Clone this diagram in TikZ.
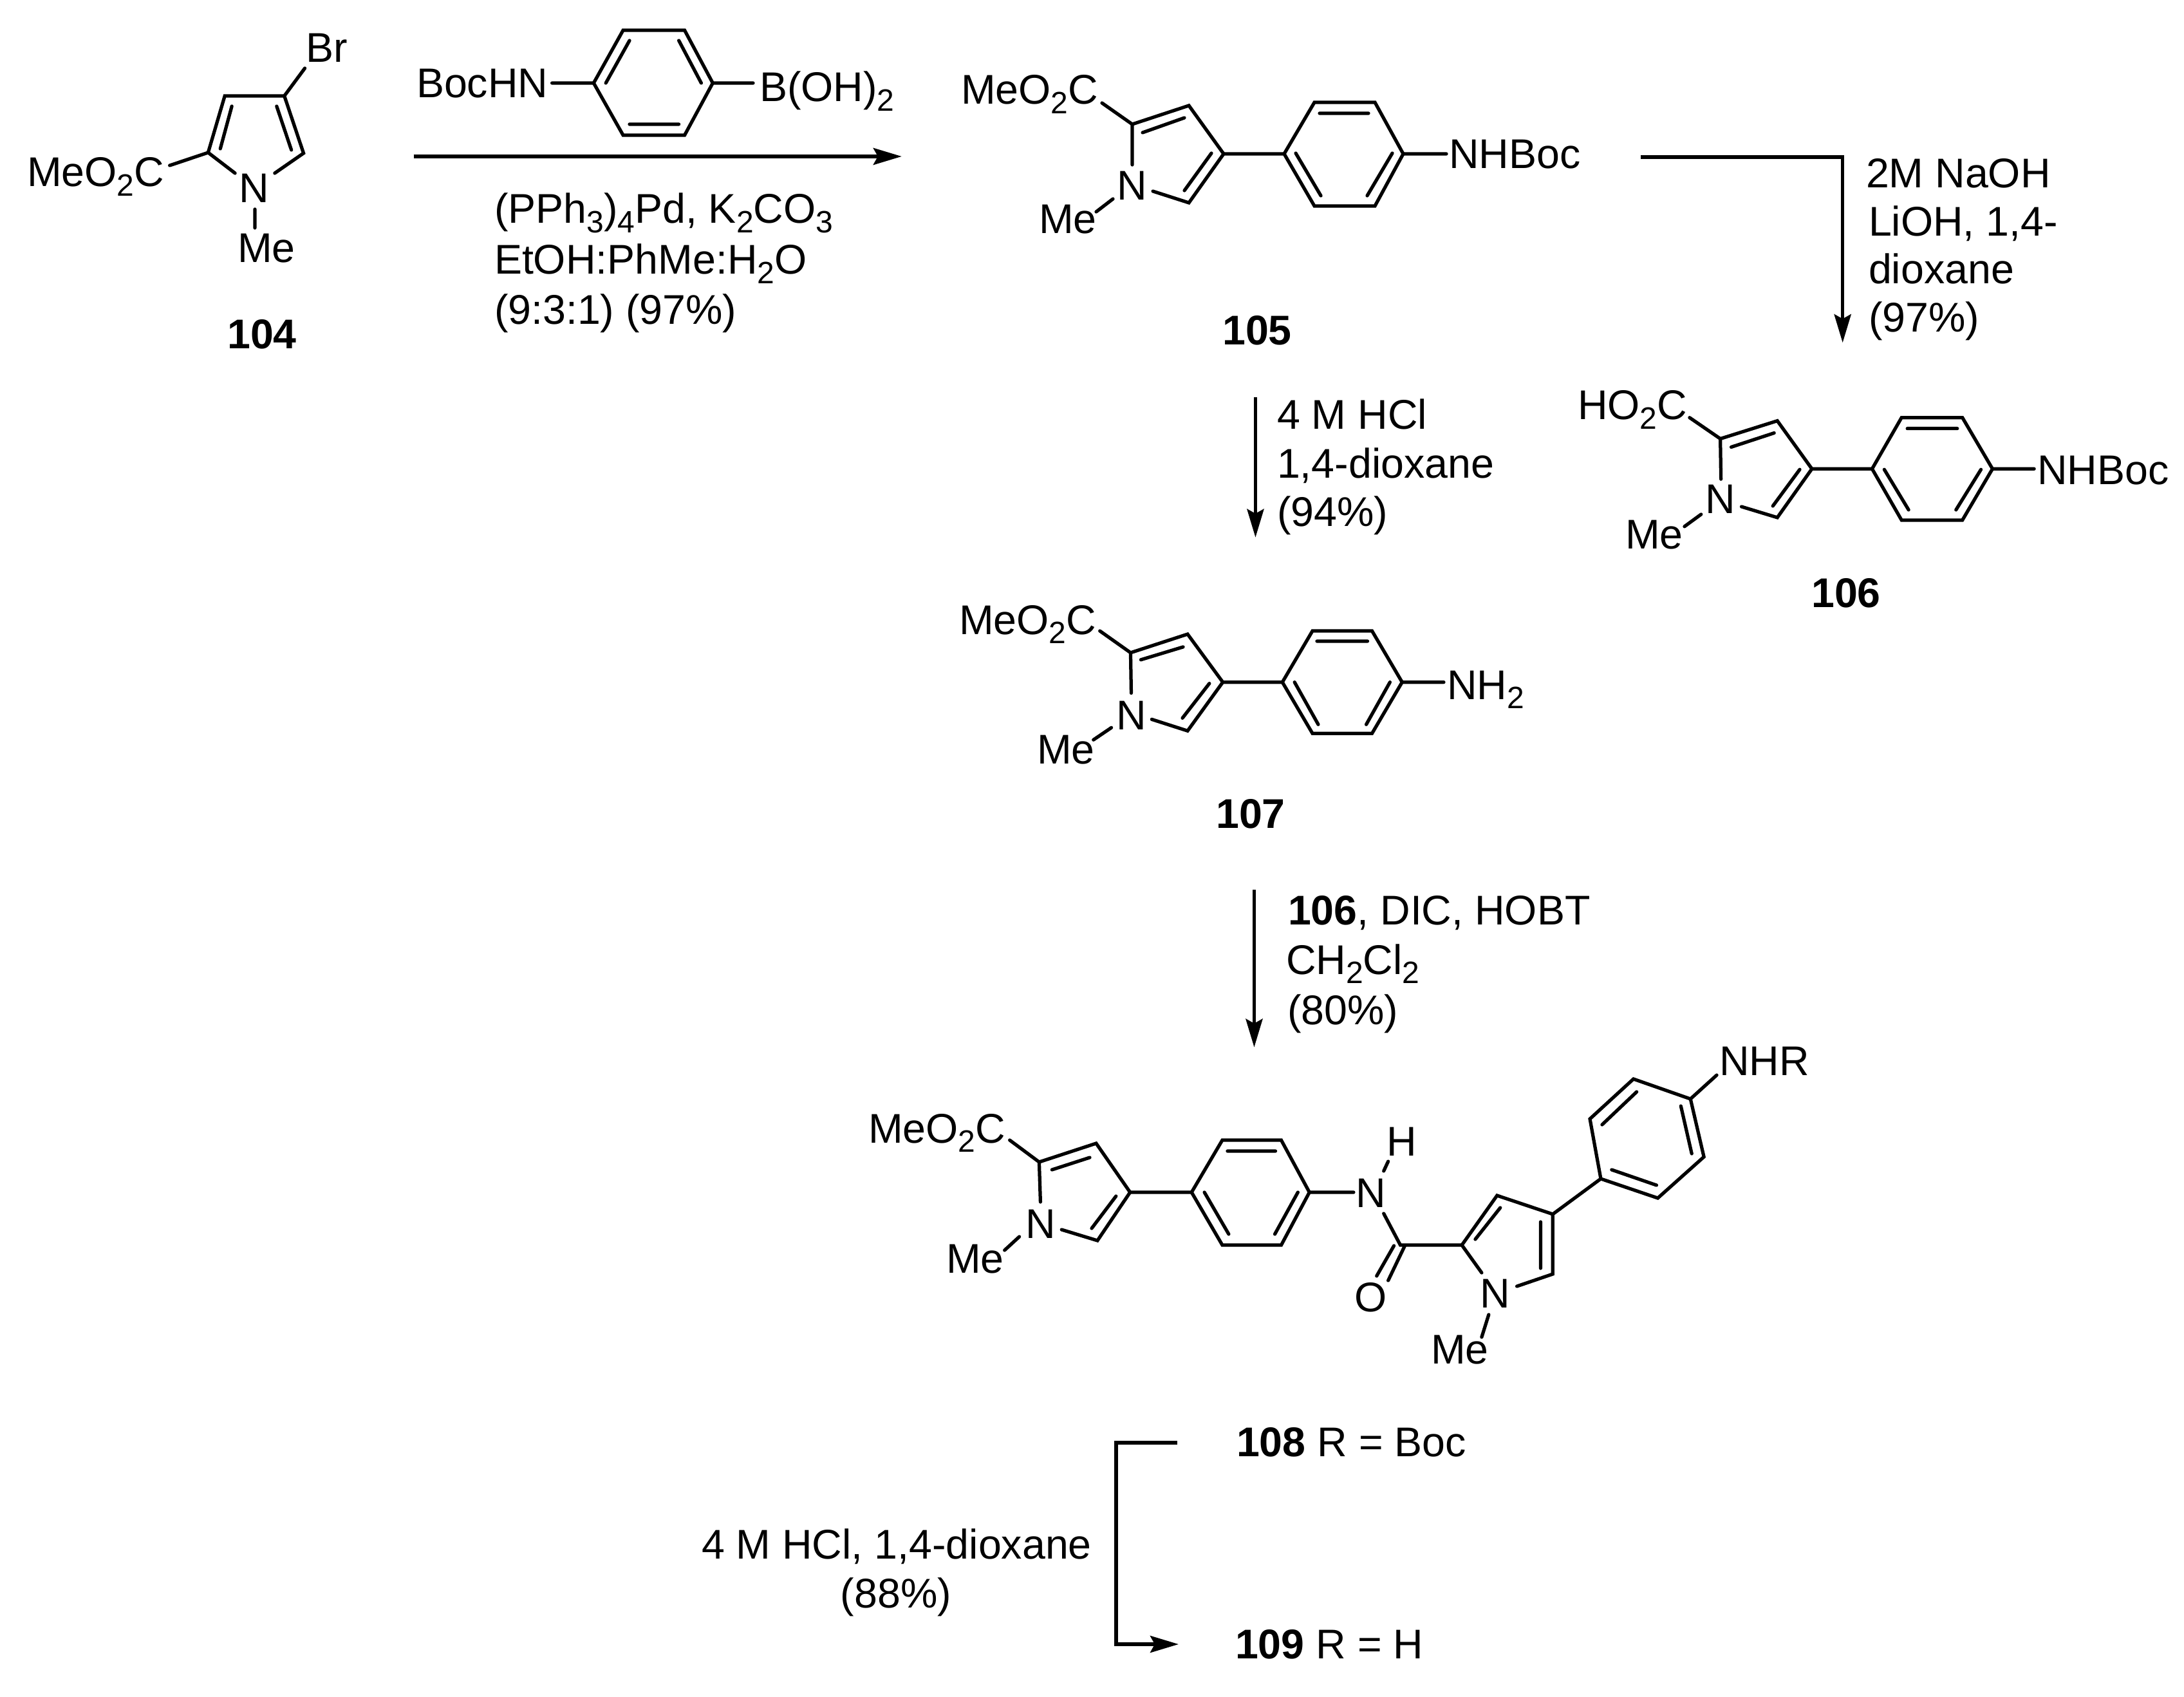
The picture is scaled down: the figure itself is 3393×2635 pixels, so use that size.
\documentclass[tikz,border=0pt]{standalone}
\usepackage{fontspec}
\setmainfont{Liberation Sans}
\usetikzlibrary{arrows.meta}
\newcommand{\dn}[1]{\raisebox{-0.22em}{\fontsize{9.6}{10}\selectfont #1}}
\newcommand{\setc}[1]{\foreach \n/\x/\y in {#1}{\coordinate (\n) at (\x,\y);}}
% coordinates measured from a crop: corrected about the crop's corner
\newcommand{\setcs}[5]{\begin{scope}[shift={(#1,#2)},xscale=#3,yscale=#4,shift={(-#1,-#2)}]\setc{#5}\end{scope}}
\tikzset{
  bond/.style={line width=1.05pt,line join=miter,line cap=round},
  rxn/.style={line width=1.1pt,line join=miter,-{Stealth[length=8.8pt,width=5.2pt,inset=1.4pt]}},
  txt/.style={anchor=base west,inner sep=0pt,outer sep=0pt,font=\fontsize{12.9}{14}\selectfont},
  atom/.style={anchor=base,inner sep=0pt,outer sep=0pt,font=\fontsize{12.9}{14}\selectfont},
  cpd/.style={anchor=base,inner sep=0pt,outer sep=0pt,font=\fontsize{12.9}{14}\selectfont\bfseries}
}
\begin{document}
\begin{tikzpicture}[x=0.2pt,y=-0.2pt]
\useasboundingbox (0,0) rectangle (3393,2635);
\fill[white] (0,0) rectangle (3393,2635);

% ---------- 104
\setcs{0}{0}{0.9949}{1}{a2/325/237,a3/351/149,a4/444/149,a5/474/238,aNl/367/269,aNr/429/269,
  aBr/476/106,aCO/265/257,ai1/344/231,ai2/362/165,ai3/432/165,ai4/455/233,aMa/398/325,aMb/398/354}
\node[txt] (aEster) at (42,290) {MeO\dn{2}C};
\node[atom] (aN) at (395,315) {N};
\node[txt] (aBrL) at (475,97) {Br};
\node[txt] (aMe) at (369,408) {Me};
\node[cpd] (n104) at (407,542) {104};
\draw[bond] (aNl)--(a2)--(a3)--(a4)--(a5)--(aNr);
\draw[bond] (aCO)--(a2) (a4)--(aBr) (ai1)--(ai2) (ai3)--(ai4) (aMa)--(aMb);

% ---------- boronic acid reagent
\setcs{0}{0}{0.9949}{1}{bL/927/129,bTL/973/47,bTR/1069/47,bR/1113/129,bBR/1069/210,bBL/973/210,
  bi1/946/129,bi2/983/63,bi3/1095/129,bi4/1060/63,bi5/983/193,bi6/1060/193,bNb/862/129,bBb/1176/129}
\node[txt] (bBoc) at (647,152) {BocHN};
\node[txt] (bB) at (1180,158) {B(OH)\dn{2}};
\draw[bond] (bL)--(bTL)--(bTR)--(bR)--(bBR)--(bBL)--cycle;
\draw[bond] (bi1)--(bi2) (bi3)--(bi4) (bi5)--(bi6) (bNb)--(bL) (bR)--(bBb);

% arrow 104 -> 105
\setcs{0}{0}{0.9949}{1}{r1a/646/243,r1b/1408/243}
\draw[rxn] (r1a)--(r1b);
\node[txt] (r1t1) at (768,347) {(PPh\dn{3})\dn{4}Pd, K\dn{2}CO\dn{3}};
\node[txt] (r1t2) at (768,426) {EtOH:PhMe:H\dn{2}O};
\node[txt] (r1t3) at (768,504) {(9:3:1) (97\%)};

% ---------- 105
\setc{c2/1759/193,c3/1847/164,c4/1901/239,c5/1847/315,cNl/1759/256,cNr/1791/297,
  cCO/1712/160,ci1/1775/206,ci2/1840/183,ci3/1840/296,ci4/1882/238,cMa/1729/309,cMb/1703/329,
  cL/1995/239,cTL/2042/159,cTR/2136/159,cR/2180/239,cBR/2136/320,cBL/2042/320,
  cp1/2050/176,cp2/2126/176,cp3/2013/238,cp4/2052/304,cp5/2163/238,cp6/2124/304,cNb/2247/239}
\node[txt] (cEster) at (1493,162) {MeO\dn{2}C};
\node[atom] (cN) at (1759,311) {N};
\node[txt] (cMe) at (1614,363) {Me};
\node[txt] (cNH) at (2251,262) {NHBoc};
\node[cpd] (n105) at (1953,536) {105};
\draw[bond] (cNl)--(c2)--(c3)--(c4)--(c5)--(cNr);
\draw[bond] (cCO)--(c2) (ci1)--(ci2) (ci3)--(ci4) (cMa)--(cMb) (c4)--(cL);
\draw[bond] (cL)--(cTL)--(cTR)--(cR)--(cBR)--(cBL)--cycle;
\draw[bond] (cp1)--(cp2) (cp3)--(cp4) (cp5)--(cp6) (cR)--(cNb);

% arrow 105 -> 106
\setcs{2400}{200}{0.9949}{0.9949}{r2a/2550/244,r2b/2865/244,r2c/2865/534}
\draw[rxn] (r2a)--(r2b)--(r2c);
\node[txt] (r2t1) at (2899,292) {2M NaOH};
\node[txt] (r2t2) at (2903,367) {LiOH, 1,4-};
\node[txt] (r2t3) at (2903,441) {dioxane};
\node[txt] (r2t4) at (2903,516) {(97\%)};

% ---------- 106
\setcs{2400}{200}{0.9949}{0.9949}{d2/2674/684,d3/2763/656,d4/2817/731,d5/2763/807,dNl/2675/747,dNr/2707/790,
  dCO/2626/651,di1/2691/697,di2/2758/675,di3/2756/789,di4/2798/732,dMa/2644/802,dMb/2618/821,
  dL/2911/731,dTL/2957/651,dTR/3052/651,dR/3099/731,dBR/3052/811,dBL/2957/811,
  dp1/2966/668,dp2/3044/668,dp3/2930/732,dp4/2968/795,dp5/3081/732,dp6/3042/795,dNb/3164/731}
\node[txt] (dEster) at (2451,652) {HO\dn{2}C};
\node[atom] (dN) at (2673,798) {N};
\node[txt] (dMe) at (2525,852) {Me};
\node[txt] (dNH) at (3165,752) {NHBoc};
\node[cpd] (n106) at (2868,943) {106};
\draw[bond] (dNl)--(d2)--(d3)--(d4)--(d5)--(dNr);
\draw[bond] (dCO)--(d2) (di1)--(di2) (di3)--(di4) (dMa)--(dMb) (d4)--(dL);
\draw[bond] (dL)--(dTL)--(dTR)--(dR)--(dBR)--(dBL)--cycle;
\draw[bond] (dp1)--(dp2) (dp3)--(dp4) (dp5)--(dp6) (dR)--(dNb);

% arrow 105 -> 107
\setcs{1450}{600}{0.9949}{0.9949}{r3a/1953/617,r3b/1953/836}
\draw[rxn] (r3a)--(r3b);
\node[txt] (r3t1) at (1984,667) {4 M HCl};
\node[txt] (r3t2) at (1984,743) {1,4-dioxane};
\node[txt] (r3t3) at (1984,817) {(94\%)};

% ---------- 107
\setcs{1450}{600}{0.9949}{0.9949}{e2/1758/1016,e3/1847/987,e4/1902/1062,e5/1847/1138,eNl/1759/1079,eNr/1791/1120,
  eCO/1710/982,ei1/1774/1027,ei2/1840/1007,ei3/1839/1118,ei4/1881/1064,eMa/1728/1133,eMb/1700/1152,
  eL/1995/1062,eTL/2042/982,eTR/2135/982,eR/2182/1062,eBR/2135/1142,eBL/2042/1142,
  ep1/2049/998,ep2/2128/998,ep3/2014/1062,ep4/2051/1128,ep5/2163/1062,ep6/2126/1128,eNb/2247/1062}
\node[txt] (eEster) at (1490,985) {MeO\dn{2}C};
\node[atom] (eN) at (1758,1133) {N};
\node[txt] (eMe) at (1611,1186) {Me};
\node[txt] (eNH) at (2248,1086) {NH\dn{2}};
\node[cpd] (n107) at (1943,1286) {107};
\draw[bond] (eNl)--(e2)--(e3)--(e4)--(e5)--(eNr);
\draw[bond] (eCO)--(e2) (ei1)--(ei2) (ei3)--(ei4) (eMa)--(eMb) (e4)--(eL);
\draw[bond] (eL)--(eTL)--(eTR)--(eR)--(eBR)--(eBL)--cycle;
\draw[bond] (ep1)--(ep2) (ep3)--(ep4) (ep5)--(ep6) (eR)--(eNb);

% arrow 107 -> 108
\setcs{1450}{600}{0.9949}{0.9949}{r4a/1951/1386,r4b/1951/1632}
\draw[rxn] (r4a)--(r4b);
\node[txt] (r4t1) at (2001,1436) {\textbf{106}, DIC, HOBT};
\node[txt] (r4t2) at (1998,1513) {CH\dn{2}Cl\dn{2}};
\node[txt] (r4t3) at (2000,1591) {(80\%)};

% ---------- 108
\setcs{1300}{1650}{0.9949}{1}{f2/1616/1805,f3/1705/1776,f4/1758/1852,f5/1707/1927,fNl/1618/1867,fNr/1651/1910,
  fCO/1570/1771,fi1/1636/1817,fi2/1695/1798,fi3/1698/1908,fi4/1736/1858,fMa/1585/1921,fMb/1562/1942,
  fL/1854/1852,fTL/1902/1771,fTR/1994/1771,fR/2038/1852,fBR/1994/1934,fBL/1902/1934,
  fp1/1910/1788,fp2/1985/1788,fp3/1874/1852,fp4/1912/1917,fp5/2020/1852,fp6/1984/1917,
  fNb/2107/1852,fNHa/2154/1819,fNHb/2161/1804,fNCa/2154/1885,fCam/2180/1934,
  fOa/2187/1935,fOb/2161/1989,fOc/2170/1935,fOd/2143/1982,
  g2/2276/1934,g3/2331/1857,g4/2418/1886,g5/2418/1979,gNl/2307/1977,gNr/2362/1998,
  gi1/2297/1925,gi2/2336/1876,gi3/2399/1898,gi4/2399/1970,gMa/2318/2042,gMb/2307/2077,
  hA/2493/1831,hB/2582/1861,hC/2654/1797,hD/2633/1707,hE/2544/1676,hF/2476/1738,
  hi1/2510/1817,hi2/2580/1841,hi3/2635/1792,hi4/2618/1718,hi5/2549/1696,hi6/2495/1747,hNb/2674/1670}
\node[txt] (fEster) at (1349,1775) {MeO\dn{2}C};
\node[atom] (fN) at (1617,1923) {N};
\node[txt] (fMe) at (1470,1977) {Me};
\node[atom] (fNam) at (2130,1875) {N};
\node[atom] (fH) at (2178,1795) {H};
\node[atom] (fO) at (2130,2037) {O};
\node[atom] (gN) at (2323,2031) {N};
\node[txt] (gMe) at (2223,2118) {Me};
\node[txt] (hNH) at (2671,1670) {NHR};
\draw[bond] (fNl)--(f2)--(f3)--(f4)--(f5)--(fNr);
\draw[bond] (fCO)--(f2) (fi1)--(fi2) (fi3)--(fi4) (fMa)--(fMb) (f4)--(fL);
\draw[bond] (fL)--(fTL)--(fTR)--(fR)--(fBR)--(fBL)--cycle;
\draw[bond] (fp1)--(fp2) (fp3)--(fp4) (fp5)--(fp6) (fR)--(fNb);
\draw[bond] (fNHa)--(fNHb) (fNCa)--(fCam)--(g2) (fOa)--(fOb) (fOc)--(fOd);
\draw[bond] (gNl)--(g2)--(g3)--(g4)--(g5)--(gNr);
\draw[bond] (gi1)--(gi2) (gi3)--(gi4) (gMa)--(gMb) (g4)--(hA);
\draw[bond] (hA)--(hB)--(hC)--(hD)--(hE)--(hF)--cycle;
\draw[bond] (hi1)--(hi2) (hi3)--(hi4) (hi5)--(hi6) (hD)--(hNb);

% ---------- 108 -> 109
\setc{r5a/1829/2241,r5b/1734/2241,r5c/1734/2554,r5d/1831/2554}
\draw[rxn] (r5a)--(r5b)--(r5c)--(r5d);
\node[txt] (r5t1) at (1090,2421) {4 M HCl, 1,4-dioxane};
\node[atom] (r5t2) at (1392,2497) {(88\%)};
\node[txt] (n108) at (1921,2262) {\textbf{108} R = Boc};
\node[txt] (n109) at (1919,2576) {\textbf{109} R = H};
\end{tikzpicture}
\end{document}
